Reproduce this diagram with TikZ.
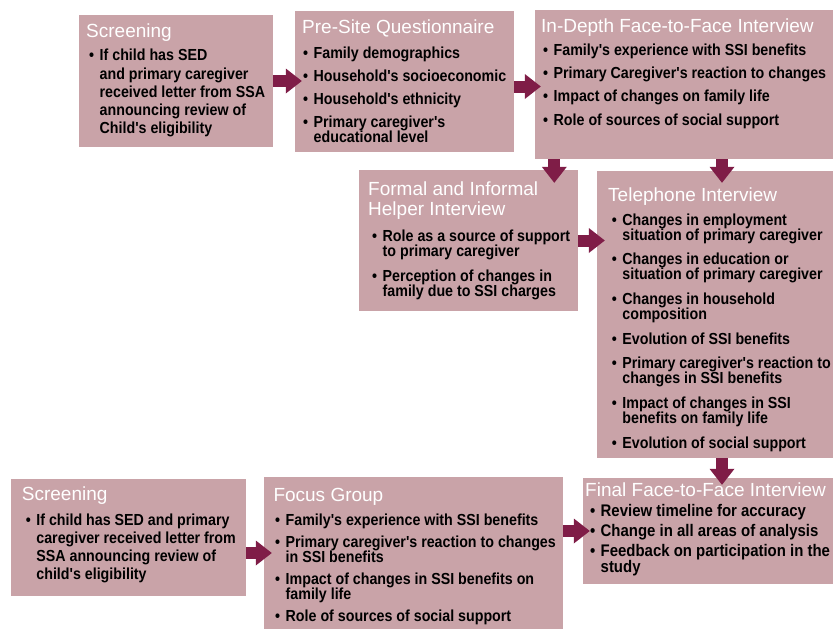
\documentclass[tikz,border=0pt]{standalone}
\usepackage{fontspec}
\setmainfont{Liberation Sans}
\newfontfamily\bodyfont{Liberation Sans}[FakeStretch=0.89]
\usepackage{tikz}
\usetikzlibrary{calc}
\usetikzlibrary{arrows.meta}
\usetikzlibrary{fit}

\definecolor{boxc}{HTML}{C9A3A8}
\definecolor{arrc}{HTML}{7F1D47}
\newcommand{\itm}[1]{\noindent\hangindent=10.5pt\hangafter=1\makebox[10.5pt][l]{\textbullet}#1\par\vspace{\igap}}
\newcommand{\blist}[2]{\parbox[t]{300pt}{\lineskiplimit=-50pt\def\igap{#1}#2}}

\tikzset{
  box/.style={fill=boxc, inner sep=0pt},
  head/.style={anchor=base west, inner sep=0pt, text=white, font=\fontsize{19}{20}\selectfont},
  list/.style 2 args={anchor=base west, inner sep=0pt, font=\bodyfont\bfseries\fontsize{#1}{#2}\selectfont},
  fat/.style={draw=arrc, line width=12pt, -{Triangle[width=25pt, length=16pt, line width=0pt]}}
}

\begin{document}
\begin{tikzpicture}[x=1pt, y=-1pt]
\useasboundingbox (0,0) rectangle (833,629);

\node[box, fit={(79,15) (273,147)}] (SCR) {};
\node[box, fit={(295,11) (514,152)}] (PRE) {};
\node[box, fit={(535,10) (833,159)}] (IND) {};
\node[box, fit={(359,170) (578,311)}] (HLP) {};
\node[box, fit={(597,171) (833,458)}] (TEL) {};
\node[box, fit={(11,479) (246,596)}] (SCB) {};
\node[box, fit={(264,477) (563,629)}] (FOC) {};
\node[box, fit={(583,478) (833,584)}] (FIN) {};

\node[head] (SCRT) at (86,37) {Screening};
\node[list={16}{18.3}] (SCRL) at (89,60.7) {\blist{0pt}{\itm{If child has SED\\and primary caregiver\\received letter from SSA\\announcing review of\\Child's eligibility}}};

\node[head] (PRET) at (302,33) {Pre-Site Questionnaire};
\node[list={16}{15}] (PREL) at (303,58.3) {\blist{8pt}{\itm{Family demographics}\itm{Household's socioeconomic}\itm{Household's ethnicity}\itm{Primary caregiver's\\educational level}}};

\node[head] (INDT) at (541,32.3) {In-Depth Face-to-Face Interview};
\node[list={16}{15}] (INDL) at (543,55.7) {\blist{8.1pt}{\itm{Family's experience with SSI benefits}\itm{Primary Caregiver's reaction to changes}\itm{Impact of changes on family life}\itm{Role of sources of social support}}};

\node[head] (HLPT) at (368,195) {\parbox[t]{220pt}{Formal and Informal\\Helper Interview}};
\node[list={16}{15}] (HLPL) at (372,241.7) {\blist{10pt}{\itm{Role as a source of support\\to primary caregiver}\itm{Perception of changes in\\family due to SSI charges}}};

\node[head] (TELT) at (608,201.7) {Telephone Interview};
\node[list={16}{15}] (TELL) at (611.7,225) {\blist{9.7pt}{\itm{Changes in employment\\situation of primary caregiver}\itm{Changes in education or\\situation of primary caregiver}\itm{Changes in household\\composition}\itm{Evolution of SSI benefits}\itm{Primary caregiver's reaction to\\changes in SSI benefits}\itm{Impact of changes in SSI\\benefits on family life}\itm{Evolution of social support}}};

\node[head] (SCBT) at (21.7,500.7) {Screening};
\node[list={16}{18.3}] (SCBL) at (25.7,525) {\blist{0pt}{\itm{If child has SED and primary\\caregiver received letter from\\SSA announcing review of\\child's eligibility}}};

\node[head] (FOCT) at (273.3,501.7) {Focus Group};
\node[list={16}{15}] (FOCL) at (275,525) {\blist{7.3pt}{\itm{Family's experience with SSI benefits}\itm{Primary caregiver's reaction to changes\\in SSI benefits}\itm{Impact of changes in SSI benefits on\\family life}\itm{Role of sources of social support}}};

\node[head] (FINT) at (585,496.7) {Final Face-to-Face Interview};
\node[list={16.8}{15.8}] (FINL) at (590,516.7) {\blist{4.2pt}{\itm{Review timeline for accuracy}\itm{Change in all areas of analysis}\itm{Feedback on participation in the\\study}}};

\draw[fat] (SCR.east) -- ($(SCR.east -| PRE.west)+(7,0)$);
\draw[fat] ($(PRE.east)+(0,5)$) -- ($(PRE.east -| IND.west)+(6,5)$);
\draw[fat] ($(IND.south west)+(19.5,0)$) -- ($(IND.south west |- HLP.north)+(19.5,13)$);
\draw[fat] ($(IND.south -| TEL.north)+(7,0)$) -- ($(TEL.north)+(7,12)$);
\draw[fat] (HLP.east) -- ($(HLP.east -| TEL.west)+(8,0)$);
\draw[fat] ($(TEL.south)+(7,0)$) -- ($(TEL.south |- FIN.north)+(7,7)$);
\draw[fat] (SCB.east |- FOC.west) -- ($(FOC.west)+(8,0)$);
\draw[fat] (FOC.east |- FIN.west) -- ($(FIN.west)+(7,0)$);

\end{tikzpicture}
\end{document}
